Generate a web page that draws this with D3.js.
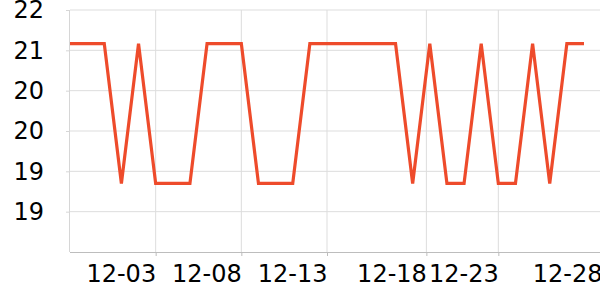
<!DOCTYPE html>
<html>
<head>
<meta charset="utf-8">
<script src="https://cdn.jsdelivr.net/npm/d3@7"></script>
<style>
  body { margin: 0; background: #fff; }
  svg { display: block; font-family: "DejaVu Sans", sans-serif; }
</style>
</head>
<body>
<div class="chart"></div>
<script>
// daily values, 31 points
const days = ["11-28","11-29","11-30","12-01","12-02","12-03","12-04","12-05","12-06","12-07",
              "12-08","12-09","12-10","12-11","12-12","12-13","12-14","12-15","12-16","12-17",
              "12-18","12-19","12-20","12-21","12-22","12-23","12-24","12-25","12-26","12-27","12-28"];
const temps = [21.5,21.5,21.5,19.42,21.5,19.42,19.42,19.42,21.5,21.5,
               21.5,19.42,19.42,19.42,21.5,21.5,21.5,21.5,21.5,21.5,
               19.42,21.5,19.42,19.42,21.5,19.42,19.42,21.5,19.42,21.5,21.5];

// axis ticks as they sit in the picture (x given as position along the day index)
const xTickPos = [5, 10, 15, 20.8, 25, 31.05];
const xTickLabels = ["12-03", "12-08", "12-13", "12-18", "12-23", "12-28"];
const yTicks = [22, 21.4, 20.8, 20.2, 19.6, 19.0];
const yTickLabels = ["22", "21", "20", "20", "19", "19"];

const w = 600, h = 300;
const padL = 70, padR = 584, padT = 10, padB = 252;

const svg = d3.select(".chart").append("svg")
    .attr("width", w)
    .attr("height", h);

const x = d3.scaleLinear().domain([0, days.length - 1]).range([padL, padR]);
const y = d3.scaleLinear().domain([18.4, 22]).range([padB, padT]);

// horizontal grid
svg.append("g").selectAll("line")
    .data(yTicks)
    .enter().append("line")
    .attr("x1", padL).attr("x2", w)
    .attr("y1", d => y(d)).attr("y2", d => y(d))
    .attr("stroke", "#dddddd").attr("stroke-width", 1);

// vertical grid
svg.append("g").selectAll("line")
    .data(xTickPos.filter(d => d <= days.length - 1))
    .enter().append("line")
    .attr("x1", d => x(d)).attr("x2", d => x(d))
    .attr("y1", padT).attr("y2", padB)
    .attr("stroke", "#dddddd").attr("stroke-width", 1);

const yAxis = d3.axisLeft(y)
    .tickValues(yTicks)
    .tickSize(4)
    .tickPadding(22)
    .tickFormat((d, i) => yTickLabels[i]);

svg.append("g")
    .attr("transform", `translate(${padL},0)`)
    .call(yAxis)
    .call(g => g.select(".domain").attr("stroke", "#d6d6d6").attr("d", `M-0.5,${padT}V${padB}`))
    .call(g => g.selectAll(".tick line").attr("stroke", "#d6d6d6"))
    .call(g => g.selectAll("text").attr("font-size", 24).attr("fill", "#000")
        .attr("font-family", "DejaVu Sans").attr("dy", "0.32em"));

const xAxis = d3.axisBottom(x)
    .tickValues(xTickPos)
    .tickSize(4)
    .tickFormat((d, i) => xTickLabels[i]);

svg.append("g")
    .attr("transform", `translate(0,${padB})`)
    .call(xAxis)
    .call(g => g.select(".domain").attr("stroke", "#bdbdbd").attr("d", `M${padL},0.5H${w}`))
    .call(g => g.selectAll(".tick line").attr("stroke", "#bdbdbd"))
    .call(g => g.selectAll("text").attr("font-size", 24).attr("fill", "#000")
        .attr("font-family", "DejaVu Sans")
        .attr("text-anchor", "end").attr("y", 30).attr("dy", 0));

const line = d3.line()
    .x((d, i) => x(i))
    .y(d => y(d));

svg.append("path")
    .datum(temps)
    .attr("d", line)
    .attr("fill", "none")
    .attr("stroke", "#ee4b2b")
    .attr("stroke-width", 3.2)
    .attr("stroke-linejoin", "miter");
</script>
</body>
</html>
